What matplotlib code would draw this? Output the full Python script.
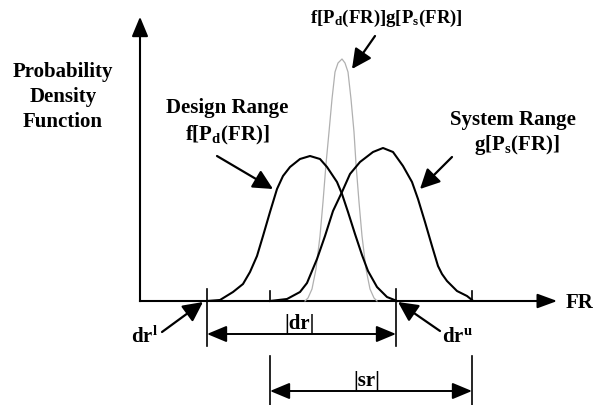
import matplotlib
matplotlib.use("Agg")
import matplotlib.pyplot as plt

plt.rcParams['font.family'] = ['Liberation Serif', 'DejaVu Serif']
plt.rcParams['mathtext.fontset'] = 'custom'
plt.rcParams['mathtext.rm'] = 'Liberation Serif:bold'
plt.rcParams['mathtext.it'] = 'Liberation Serif:bold'

# design range density f[Pd(FR)]
design_fr = [6.7, 8.0, 9.3, 10.3, 11.0, 11.7, 12.3, 13.0, 13.7, 14.3, 15.0, 16.0,
             17.0, 18.0, 18.7, 19.7, 20.2, 20.8, 21.5, 22.2, 22.8, 23.7, 24.7, 25.7]
design_pdf = [0.0, 0.01, 0.09, 0.17, 0.29, 0.45, 0.65, 0.89, 1.12, 1.25, 1.34, 1.42,
              1.45, 1.42, 1.34, 1.19, 1.07, 0.89, 0.67, 0.46, 0.30, 0.14, 0.04, 0.0]

# system range density g[Ps(FR)]
system_fr = [13.0, 14.7, 16.0, 16.7, 17.7, 18.5, 19.3, 20.2, 21.0, 22.0, 23.3, 24.3,
             25.3, 26.3, 27.2, 27.8, 28.5, 29.2, 29.8, 30.2, 30.7, 31.7, 32.7, 33.2]
system_pdf = [0.0, 0.02, 0.09, 0.18, 0.42, 0.65, 0.90, 1.09, 1.27, 1.39, 1.49, 1.53,
              1.49, 1.35, 1.19, 1.02, 0.79, 0.55, 0.35, 0.27, 0.20, 0.10, 0.05, 0.01]

# product f*g (grey)
product_fr = [16.5, 16.8, 17.2, 17.6, 18.0, 18.3, 18.6, 18.9, 19.2, 19.5, 19.8, 20.2,
              20.5, 20.8, 21.1, 21.4, 21.6, 21.9, 22.2, 22.6, 23.0, 23.4, 23.7]
product_pdf = [0.0, 0.03, 0.12, 0.32, 0.65, 0.99, 1.37, 1.69, 2.02, 2.29, 2.38, 2.42,
               2.38, 2.29, 2.02, 1.69, 1.37, 0.99, 0.65, 0.32, 0.12, 0.03, 0.0]

dr_bounds = [6.7, 25.6]
sr_bounds = [13.0, 33.2]

fig = plt.figure(figsize=(5.97, 4.06), dpi=100)
ax = fig.add_axes([0, 0, 1, 1])
ax.set_xlim(-14.0, 45.7)
ax.set_ylim(-1.04, 3.02)
ax.axis('off')

# axes with arrowheads
ax.plot([0, 0], [0, 2.75], color='black', lw=1.5)
ax.plot([0, 41], [0, 0], color='black', lw=1.5)
ax.annotate('', xy=(0, 2.87), xytext=(0, 2.7),
            arrowprops=dict(arrowstyle='-|>,head_length=0.6,head_width=0.25',
                            color='black', lw=1.5, mutation_scale=20))
ax.annotate('', xy=(42.0, 0), xytext=(40.5, 0),
            arrowprops=dict(arrowstyle='-|>,head_length=0.6,head_width=0.22',
                            color='black', lw=1.5, mutation_scale=20))

ax.plot(product_fr, product_pdf, color='#b0b0b0', lw=0.9)
ax.plot(design_fr, design_pdf, color='black', lw=1.5)
ax.plot(system_fr, system_pdf, color='black', lw=1.5)

# range markers
for x in dr_bounds:
    ax.plot([x, x], [0.12, -0.45], color='black', lw=1.2)
for x in sr_bounds:
    ax.plot([x, x], [0.10, 0.0], color='black', lw=1.2)
    ax.plot([x, x], [-0.55, -1.06], color='black', lw=1.2)

dbl = dict(arrowstyle='<|-|>,head_length=0.6,head_width=0.25',
           color='black', lw=1.4, mutation_scale=20, shrinkA=0, shrinkB=0)
ax.annotate('', xy=(dr_bounds[0], -0.33), xytext=(dr_bounds[1], -0.33), arrowprops=dbl)
ax.annotate('', xy=(sr_bounds[0], -0.90), xytext=(sr_bounds[1], -0.90), arrowprops=dbl)

ptr = dict(arrowstyle='-|>,head_length=0.6,head_width=0.3',
           color='black', lw=1.6, mutation_scale=20, shrinkA=0, shrinkB=0)
ax.annotate('', xy=(21.2, 2.32), xytext=(23.5, 2.65), arrowprops=ptr)
ax.annotate('', xy=(13.3, 1.12), xytext=(7.7, 1.45), arrowprops=ptr)
ax.annotate('', xy=(28.0, 1.12), xytext=(31.2, 1.44), arrowprops=ptr)
ax.annotate('', xy=(6.3, -0.01), xytext=(2.2, -0.31), arrowprops=ptr)
ax.annotate('', xy=(25.8, -0.01), xytext=(30.0, -0.30), arrowprops=ptr)

fs = 15
tk = dict(ha='center', va='center', fontsize=fs, fontweight='bold')
ax.text(-7.7, 2.30, 'Probability', **tk)
ax.text(-7.7, 2.05, 'Density', **tk)
ax.text(-7.7, 1.80, 'Function', **tk)
ax.text(8.7, 1.94, 'Design Range', **tk)
ax.text(8.7, 1.67, r'f[P$_\mathrm{d}$(FR)]', **tk)
ax.text(24.6, 2.84, r'f[P$_\mathrm{d}$(FR)]g[P$_\mathrm{s}$(FR)]',
        ha='center', va='center', fontsize=13.5, fontweight='bold')
ax.text(37.3, 1.82, 'System Range', **tk)
ax.text(37.7, 1.57, r'g[P$_\mathrm{s}$(FR)]', **tk)
ax.text(44.0, -0.01, 'FR', **tk)
ax.text(0.4, -0.35, r'dr$^\mathrm{l}$', **tk)
ax.text(31.7, -0.35, r'dr$^\mathrm{u}$', **tk)
ax.text(16.0, -0.22, '|dr|', **tk)
ax.text(22.7, -0.79, '|sr|', **tk)

fig.savefig('out.png', dpi=100)
